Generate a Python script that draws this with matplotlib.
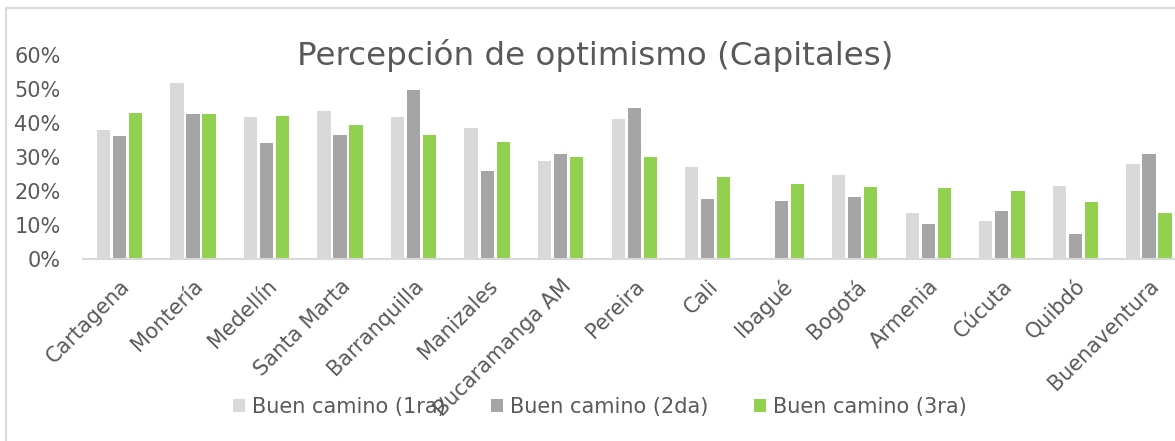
import matplotlib
matplotlib.use("Agg")
import matplotlib.pyplot as plt
import numpy as np
from matplotlib.patches import Rectangle
from matplotlib.ticker import PercentFormatter

categories = ["Cartagena", "Montería", "Medellín", "Santa Marta", "Barranquilla",
              "Manizales", "Bucaramanga AM", "Pereira", "Cali", "Ibagué", "Bogotá",
              "Armenia", "Cúcuta", "Quibdó", "Buenaventura"]
serie_1ra = [37.9, 51.9, 41.8, 43.6, 41.8, 38.6, 28.8, 41.2, 27.1, 0.0, 24.7, 13.4, 11.1, 21.5, 27.9]
serie_2da = [36.3, 42.6, 34.1, 36.6, 49.6, 25.9, 30.9, 44.3, 17.7, 17.0, 18.3, 10.3, 14.1, 7.4, 30.9]
serie_3ra = [42.9, 42.6, 42.2, 39.3, 36.5, 34.5, 30.0, 30.0, 24.2, 22.1, 21.2, 20.9, 19.9, 16.7, 13.4]
series_names = ["Buen camino (1ra)", "Buen camino (2da)", "Buen camino (3ra)"]
colors = ["#D9D9D9", "#A5A5A5", "#92D050"]
yticks = [0, 10, 20, 30, 40, 50, 60]

text_color = "#595959"
plt.rcParams["font.family"] = ["DejaVu Sans"]

fig = plt.figure(figsize=(11.75, 4.41), dpi=100)
fig.patches.append(Rectangle((6 / 1175, -0.1), 1.2, 1 - 8 / 441 + 0.1,
                             transform=fig.transFigure, fill=False,
                             edgecolor="#D9D9D9", linewidth=1.5, zorder=0))

ax = fig.add_axes([82.7 / 1175, 1 - 259 / 441, 1103 / 1175, 204 / 441])
x = np.arange(len(categories))
w = 0.18
off = 0.218
for i, (vals, name, c) in enumerate(zip([serie_1ra, serie_2da, serie_3ra], series_names, colors)):
    ax.bar(x + (i - 1) * off, vals, width=w, color=c, label=name, zorder=2)

ax.set_xlim(-0.5, len(categories) - 0.5)
ax.set_ylim(0, 60)
ax.set_yticks(yticks)
ax.yaxis.set_major_formatter(PercentFormatter(decimals=0))
ax.tick_params(axis="y", length=0, labelsize=15, labelcolor=text_color, pad=16)
ax.set_xticks(x)
ax.set_xticklabels(categories, rotation=45, ha="right", va="top",
                   rotation_mode="anchor", fontsize=15, color=text_color)
ax.tick_params(axis="x", length=0, pad=12)
for lbl in ax.get_xticklabels():
    lbl.set_x(lbl.get_position()[0])
for s in ["top", "right", "left"]:
    ax.spines[s].set_visible(False)
ax.spines["bottom"].set_color("#D9D9D9")
ax.spines["bottom"].set_linewidth(1.5)

fig.text(595 / 1175, 1 - 55 / 441, "Percepción de optimismo (Capitales)",
         ha="center", va="center", fontsize=23.4, color=text_color)

fig.legend(loc="center", bbox_to_anchor=(600 / 1175, 1 - 407 / 441), ncol=3,
           frameon=False, fontsize=15, labelcolor=text_color,
           handlelength=0.58, handleheight=0.58, handletextpad=0.34, columnspacing=2.16)

fig.savefig("out.png", dpi=100)
